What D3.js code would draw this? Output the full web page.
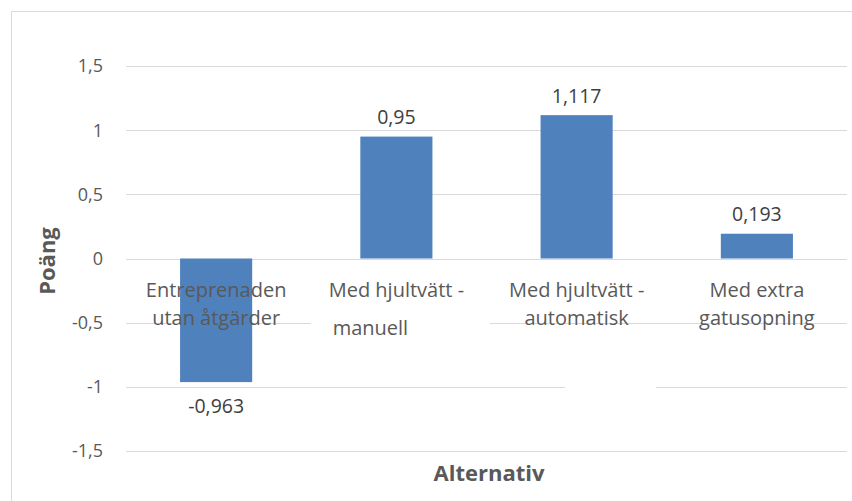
<!DOCTYPE html>
<html>
<head>
<meta charset="utf-8">
<script src="https://cdn.jsdelivr.net/npm/d3@7"></script>
<style>
  html, body { margin: 0; padding: 0; background: #fff; }
  svg { display: block; }
  text { font-family: "Open Sans", "Noto Sans", sans-serif; }
</style>
</head>
<body>
<svg id="chart" width="852" height="501"></svg>
<script>
// Poäng per alternativ
const categories = [
  ["Entreprenaden", "utan åtgärder"],
  ["Med hjultvätt -", "manuell"],
  ["Med hjultvätt -", "automatisk"],
  ["Med extra", "gatusopning"]
];
const values = [-0.963, 0.95, 1.117, 0.193];
const valueLabels = ["-0,963", "0,95", "1,117", "0,193"];
const yTicks = [-1.5, -1, -0.5, 0, 0.5, 1, 1.5];
const yTickLabels = ["-1,5", "-1", "-0,5", "0", "0,5", "1", "1,5"];
const yTitle = "Poäng";
const xTitle = "Alternativ";

const svg = d3.select("#chart");
const plot = { left: 126, right: 847, top: 66, bottom: 451 };

// Chart area frame (runs off the right and bottom edge)
svg.append("rect")
  .attr("x", 11.5).attr("y", 11.5)
  .attr("width", 900).attr("height", 600)
  .attr("fill", "#fff").attr("stroke", "#d9d9d9").attr("stroke-width", 1);

const y = d3.scaleLinear().domain([-1.5, 1.5]).range([plot.bottom, plot.top]);
const x = d3.scaleBand()
  .domain(d3.range(categories.length))
  .range([plot.left, plot.right])
  .paddingInner(0.6).paddingOuter(0.3);

// Horizontal gridlines
svg.append("g").selectAll("line").data(yTicks).join("line")
  .attr("x1", plot.left).attr("x2", plot.right)
  .attr("y1", d => Math.round(y(d)) + 0.5).attr("y2", d => Math.round(y(d)) + 0.5)
  .attr("stroke", "#d9d9d9").attr("stroke-width", 1);

// Y tick labels
svg.append("g").selectAll("text").data(yTicks).join("text")
  .attr("x", 103).attr("y", d => y(d))
  .attr("dy", "0.36em")
  .attr("text-anchor", "end")
  .attr("font-size", 18)
  .attr("fill", "#595959")
  .text((d, i) => yTickLabels[i]);

// Bars
svg.append("g").selectAll("rect").data(values).join("rect")
  .attr("x", (d, i) => x(i))
  .attr("width", x.bandwidth())
  .attr("y", d => y(Math.max(0, d)))
  .attr("height", d => Math.abs(y(d) - y(0)))
  .attr("fill", "#4F81BD");

// Label backing boxes that break the gridlines
const labelBoxes = [
  { cat: 1, line: -0.5, x0: 311, x1: 490 },
  { cat: 2, line: -1, x0: 565, x1: 656 }
];
svg.append("g").selectAll("rect").data(labelBoxes).join("rect")
  .attr("x", d => d.x0).attr("width", d => d.x1 - d.x0)
  .attr("y", d => y(d.line) - 6).attr("height", 12)
  .attr("fill", "#fff");

// Value labels
svg.append("g").selectAll("text").data(values).join("text")
  .attr("x", (d, i) => x(i) + x.bandwidth() / 2)
  .attr("y", d => d >= 0 ? y(d) - 12.5 : y(d) + 31)
  .attr("text-anchor", "middle")
  .attr("font-size", 19.5)
  .attr("fill", "#404040")
  .text((d, i) => valueLabels[i]);

// Category labels (two lines each)
const catG = svg.append("g");
categories.forEach((lines, i) => {
  const cx = x(i) + x.bandwidth() / 2;
  catG.append("text")
    .attr("x", cx).attr("y", 297)
    .attr("text-anchor", "middle")
    .attr("font-size", 20)
    .attr("fill", "#595959")
    .text(lines[0]);
  const second = catG.append("text")
    .attr("x", i === 1 ? cx - 26 : cx)
    .attr("y", i === 1 ? 335 : 325)
    .attr("text-anchor", "middle")
    .attr("font-size", 20)
    .attr("fill", "#595959")
    .text(lines[1]);
});

// Axis titles
svg.append("text")
  .attr("transform", "translate(55,261) rotate(-90)")
  .attr("text-anchor", "middle")
  .attr("font-size", 22)
  .attr("font-weight", "bold")
  .attr("fill", "#595959")
  .text(yTitle);

svg.append("text")
  .attr("x", 489).attr("y", 481)
  .attr("text-anchor", "middle")
  .attr("font-size", 22)
  .attr("font-weight", "bold")
  .attr("fill", "#595959")
  .text(xTitle);
</script>
</body>
</html>
